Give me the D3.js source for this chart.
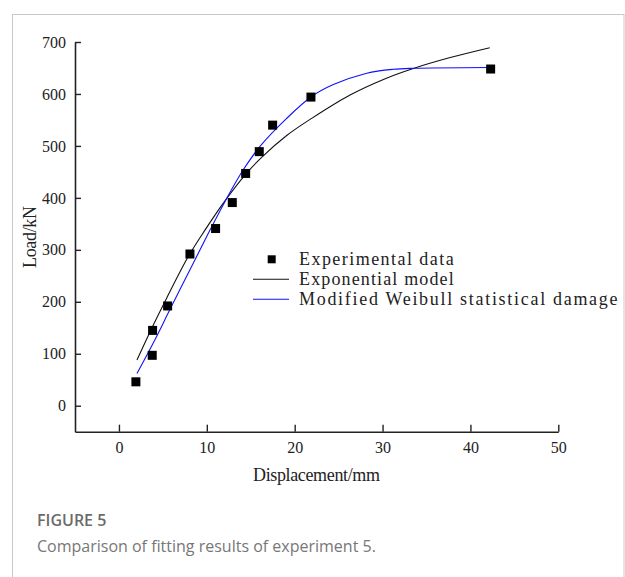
<!DOCTYPE html>
<html>
<head>
<meta charset="utf-8">
<script src="https://cdn.jsdelivr.net/npm/d3@7/dist/d3.min.js"></script>
<style>
  html, body { margin: 0; padding: 0; background: #fff; }
  svg { display: block; }
</style>
</head>
<body>
<svg id="chart" width="625" height="577"></svg>
<script>
// ---- Data ----
const expX = [1.93, 3.79, 3.83, 5.54, 8.08, 11.0, 12.9, 14.42, 15.97, 17.49, 21.85, 42.3];
const expY = [46, 97, 145, 192, 292, 341, 391, 447, 489, 540, 594, 648];

const expoX = [2.05, 3.9, 5.43, 7.89, 9.79, 11.88, 14.34, 16.24, 19.09, 21.93, 26.3, 30.1, 33.5, 37.7, 42.2];
const expoY = [88, 155, 207, 287, 338, 390, 444, 478, 520, 553, 598, 628, 649, 670, 689];

const weibX = [2.05, 4.1, 5.8, 8.27, 10.36, 12.26, 14.15, 16.05, 19.09, 21.93, 24.4, 28.2, 31.2, 33.5, 42.2];
const weibY = [62, 127, 185, 268, 338, 399, 454, 499, 553, 595, 618, 640, 647.5, 649.5, 651];

const xTicks = [0, 10, 20, 30, 40, 50];
const yTicks = [0, 100, 200, 300, 400, 500, 600, 700];
const legendLabels = ["Experimental data", "Exponential model", "Modified Weibull statistical damage"];
const xTitle = "Displacement/mm";
const yTitle = "Load/kN";
const captionTitle = "FIGURE 5";
const captionText = "Comparison of fitting results of experiment 5.";

// ---- Layout ----
const svg = d3.select("#chart");
const x = d3.scaleLinear().domain([-5, 50]).range([75, 558.3]);
const y = d3.scaleLinear().domain([-50, 700]).range([431.7, 42]);

// frame
svg.append("rect")
  .attr("x", 12.5).attr("y", 14.5)
  .attr("width", 611.5).attr("height", 600)
  .attr("fill", "none").attr("stroke", "#c8c8c8").attr("stroke-width", 1);

const tickFont = "'Liberation Serif', 'Times New Roman', serif";
const titleFont = "'Liberation Serif', 'Times New Roman', serif";

// axes
const xAxis = d3.axisBottom(x).tickValues(xTicks).tickSizeInner(-7).tickSizeOuter(0).tickPadding(10);
const yAxis = d3.axisLeft(y).tickValues(yTicks).tickSizeInner(-6).tickSizeOuter(0).tickPadding(9);

const gx = svg.append("g").attr("transform", `translate(0,${y(-50)})`).call(xAxis);
const gy = svg.append("g").attr("transform", `translate(${x(-5)},0)`).call(yAxis);
[gx, gy].forEach(g => {
  g.select(".domain").attr("stroke", "#222").attr("stroke-width", 1.6);
  g.selectAll(".tick line").attr("stroke", "#222").attr("stroke-width", 1.4);
  g.selectAll(".tick text").attr("fill", "#222").style("font-family", tickFont).style("font-size", "16px");
});

// curves
const line = d3.line().x(d => x(d[0])).y(d => y(d[1])).curve(d3.curveCatmullRom.alpha(0.5));
svg.append("path")
  .datum(expoX.map((v, i) => [v, expoY[i]]))
  .attr("d", line).attr("fill", "none").attr("stroke", "#111").attr("stroke-width", 1.1);
svg.append("path")
  .datum(weibX.map((v, i) => [v, weibY[i]]))
  .attr("d", line).attr("fill", "none").attr("stroke", "#1010ff").attr("stroke-width", 1.1);

// markers
const ms = 9;
svg.append("g").selectAll("rect")
  .data(expX.map((v, i) => [v, expY[i]]))
  .join("rect")
  .attr("x", d => x(d[0]) - ms / 2).attr("y", d => y(d[1]) - ms / 2)
  .attr("width", ms).attr("height", ms).attr("fill", "#000");

// legend
const lg = svg.append("g");
const rowY = [259.3, 279.3, 299.3];
lg.append("rect").attr("x", 271.7 - 4).attr("y", rowY[0] - 4).attr("width", 8).attr("height", 8).attr("fill", "#000");
lg.append("line").attr("x1", 253).attr("x2", 289).attr("y1", rowY[1]).attr("y2", rowY[1]).attr("stroke", "#111").attr("stroke-width", 1.1);
lg.append("line").attr("x1", 253).attr("x2", 289).attr("y1", rowY[2]).attr("y2", rowY[2]).attr("stroke", "#1010ff").attr("stroke-width", 1.1);
legendLabels.forEach((t, i) => {
  lg.append("text")
    .attr("x", 299).attr("y", rowY[i] + 6)
    .attr("textLength", t.length * 9.1).attr("lengthAdjust", "spacing")
    .style("font-family", titleFont).style("font-size", "18px").attr("fill", "#222")
    .text(t);
});

// axis titles
svg.append("text")
  .attr("x", 316.5).attr("y", 481)
  .attr("text-anchor", "middle")
  .attr("textLength", 127).attr("lengthAdjust", "spacing")
  .style("font-family", titleFont).style("font-size", "18px").attr("fill", "#222")
  .text(xTitle);
svg.append("text")
  .attr("transform", "translate(36,237) rotate(-90)")
  .attr("text-anchor", "middle")
  .attr("textLength", 62).attr("lengthAdjust", "spacing")
  .style("font-family", titleFont).style("font-size", "18px").attr("fill", "#222")
  .text(yTitle);

// caption
svg.append("text")
  .attr("x", 37).attr("y", 526)
  .style("font-family", "'Open Sans', sans-serif").style("font-size", "16px").style("font-weight", 600)
  .attr("fill", "#6b6b6b")
  .text(captionTitle);
svg.append("text")
  .attr("x", 37).attr("y", 552)
  .style("font-family", "'Open Sans', sans-serif").style("font-size", "16px")
  .attr("fill", "#777")
  .text(captionText);
</script>
</body>
</html>
